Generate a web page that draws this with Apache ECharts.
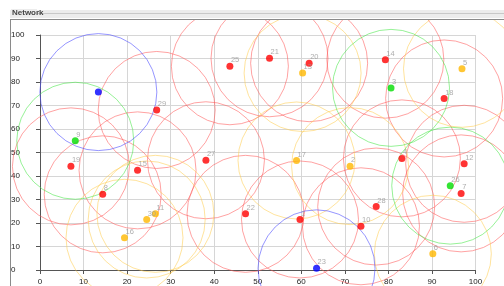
<!DOCTYPE html>
<html>
<head>
<meta charset="utf-8">
<script src="https://cdn.jsdelivr.net/npm/echarts@6/dist/echarts.min.js"></script>
<style>
  html, body { margin: 0; padding: 0; background: #fff; }
  #chart { width: 504px; height: 286px; }
</style>
</head>
<body>
<div id="chart"></div>
<script>
// node data
const nodeLabels = ['25', '21', '20', '14', '18', '29', '19', '15', '8', '27', '4', '12', '7', '22', '1', '28', '10',
                    '13', '5', '17', '2', '30', '11', '16', '6',
                    '3', '9', '26',
                    '', '23']
const nodeX = [43.6, 52.7, 61.8, 79.3, 92.8, 26.8, 7.1, 22.4, 14.4, 38.1, 83.1, 97.4, 96.7, 47.2, 59.7, 77.2, 73.7,
               60.3, 96.9, 58.9, 71.2, 24.5, 26.5, 19.4, 90.2,
               80.6, 8.1, 94.2,
               13.4, 63.5]
const nodeY = [86.7, 90.1, 88.0, 89.5, 73.0, 68.1, 44.1, 42.4, 32.2, 46.7, 47.5, 45.2, 32.6, 23.9, 21.5, 27.0, 18.6,
               83.8, 85.6, 46.6, 44.2, 21.5, 23.9, 13.7, 6.9,
               77.5, 55.0, 35.9,
               75.7, 0.7]
const nodeGroup = ['r', 'r', 'r', 'r', 'r', 'r', 'r', 'r', 'r', 'r', 'r', 'r', 'r', 'r', 'r', 'r', 'r',
                   'y', 'y', 'y', 'y', 'y', 'y', 'y', 'y',
                   'g', 'g', 'g',
                   'b', 'b']
const axisTicks = [0, 10, 20, 30, 40, 50, 60, 70, 80, 90, 100]

const dotColor = { r: '#ff0000', y: '#ffb800', g: '#00dd00', b: '#0000ff' }
const ringColor = { r: 'rgba(255,90,90,0.7)', y: 'rgba(255,205,80,0.7)', g: 'rgba(70,230,70,0.7)', b: 'rgba(80,80,255,0.75)' }

const groups = ['r', 'y', 'g', 'b']

const ringSeries = groups.map(g => ({
  type: 'scatter',
  silent: true,
  clip: false,
  symbol: 'circle',
  symbolSize: 117,
  z: 2,
  itemStyle: { color: 'rgba(0,0,0,0)', borderColor: ringColor[g], borderWidth: 1 },
  emphasis: { disabled: true },
  data: nodeX.map((x, i) => [x, nodeY[i]]).filter((p, i) => nodeGroup[i] === g)
}))

const dotSeries = groups.map(g => ({
  type: 'scatter',
  silent: true,
  clip: false,
  symbol: 'circle',
  symbolSize: 7,
  z: 3,
  itemStyle: { color: dotColor[g] },
  emphasis: { disabled: true },
  label: {
    show: true,
    position: 'inside',
    align: 'left',
    offset: [1, -6],
    color: '#999',
    fontSize: 7.5,
    fontFamily: 'Liberation Sans',
    formatter: p => p.data[2]
  },
  data: nodeX.map((x, i) => [x, nodeY[i], nodeLabels[i]]).filter((p, i) => nodeGroup[i] === g)
}))

const axisCommon = {
  type: 'value',
  min: axisTicks[0],
  max: axisTicks[axisTicks.length - 1],
  interval: 10,
  axisLine: { show: true, lineStyle: { color: '#555', width: 1 } },
  axisTick: { show: true, inside: false, length: 4, lineStyle: { color: '#555' } },
  splitLine: { show: true, lineStyle: { color: '#d6d6d6', width: 1 } },
  axisLabel: { color: '#222', fontSize: 8, fontFamily: 'Liberation Sans' }
}

const chart = echarts.init(document.getElementById('chart'), null, { renderer: 'canvas' })
chart.setOption({
  animation: false,
  backgroundColor: '#fff',
  grid: { left: 40, right: 28.5, top: 35, bottom: 15, containLabel: false },
  xAxis: Object.assign({}, axisCommon, {
    axisLabel: Object.assign({}, axisCommon.axisLabel, { margin: 8 })
  }),
  yAxis: Object.assign({}, axisCommon, {
    axisLabel: Object.assign({}, axisCommon.axisLabel, { align: 'left', margin: 29 })
  }),
  graphic: [
    { type: 'rect', z: 100, shape: { x: 0, y: 0, width: 504, height: 19 }, style: { fill: '#fff' } },
    { type: 'rect', z: 101, shape: { x: 10, y: 10, width: 494, height: 8 }, style: { fill: '#ececec' } },
    { type: 'line', z: 102, shape: { x1: 36, y1: 13.5, x2: 504, y2: 13.5 }, style: { stroke: '#c8c8c8', lineWidth: 1 } },
    { type: 'line', z: 102, shape: { x1: 10, y1: 19.5, x2: 504, y2: 19.5 }, style: { stroke: '#8a8a8a', lineWidth: 1 } },
    { type: 'line', z: 102, shape: { x1: 10.5, y1: 19, x2: 10.5, y2: 286 }, style: { stroke: '#8a8a8a', lineWidth: 1 } },
    { type: 'rect', z: 103, shape: { x: 11, y: 9, width: 26, height: 9 }, style: { fill: '#ececec' } },
    {
      type: 'text', z: 104, left: 12, top: 9,
      style: { text: 'Network', fill: '#444', font: 'bold 8px "Liberation Sans"' }
    }
  ],
  series: ringSeries.concat(dotSeries)
})
</script>
</body>
</html>
